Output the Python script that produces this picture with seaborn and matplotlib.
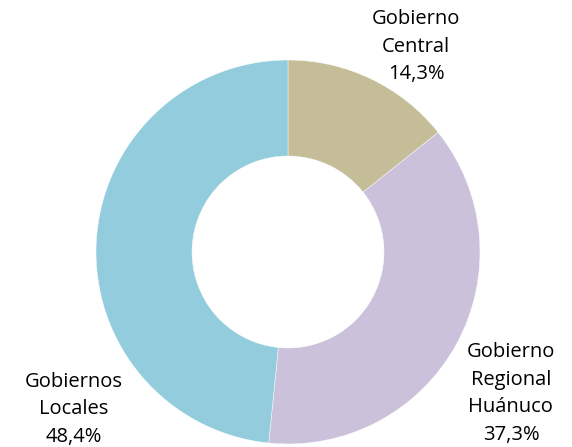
import matplotlib
matplotlib.use("Agg")
import matplotlib.pyplot as plt
import seaborn as sns

# Data
labels = ["Gobierno\nCentral", "Gobierno\nRegional\nHuánuco", "Gobiernos\nLocales"]
shares = [14.3, 37.3, 48.4]
colors = ["#c4bd97", "#ccc1da", "#93cddd"]
# label anchor positions (data units, radius = 1)
label_pos = [(0.667, 1.068), (1.161, -0.737), (-1.115, -0.818)]

sns.set_style("white")
plt.rcParams["font.family"] = ["Open Sans", "DejaVu Sans"]

fig = plt.figure(figsize=(5.72, 4.47), dpi=100)
ax = fig.add_axes([96 / 572, 3 / 447, 384 / 572, 384 / 447])

ax.pie(shares, colors=colors, startangle=90, counterclock=False,
       radius=1, wedgeprops=dict(width=0.5, edgecolor="white", linewidth=0.3))

for lab, val, (x, y) in zip(labels, shares, label_pos):
    txt = f"{lab}\n{val:.1f}%".replace(".", ",")
    ax.text(x, y, txt, ha="center", va="center", fontsize=14.5,
            linespacing=1.5, color="black", clip_on=False)

ax.set_xlim(-1, 1)
ax.set_ylim(-1, 1)
ax.set_aspect("equal")
ax.axis("off")

fig.savefig("out.png", dpi=100)
